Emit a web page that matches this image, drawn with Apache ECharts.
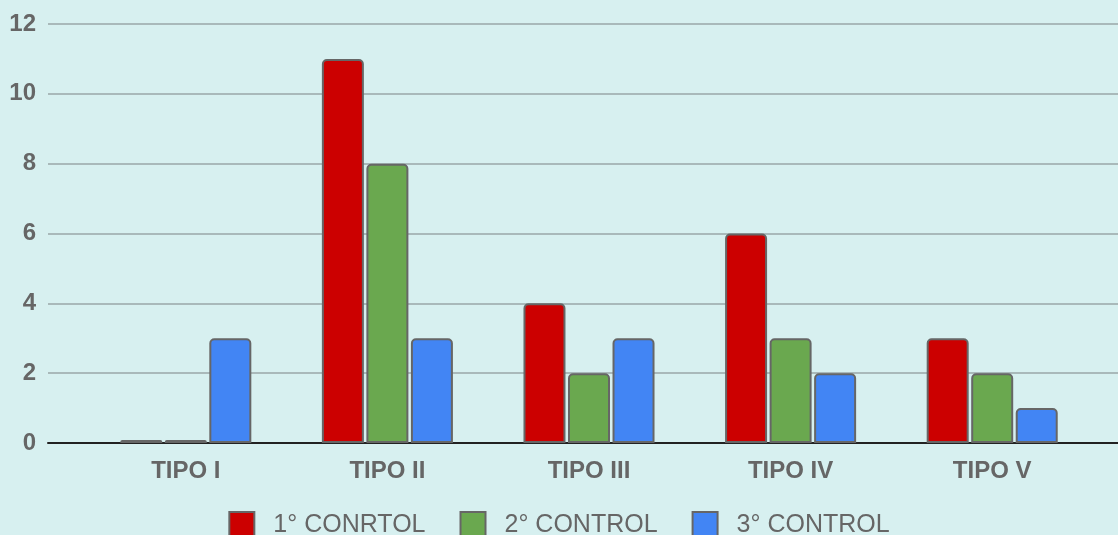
<!DOCTYPE html>
<html>
<head>
<meta charset="utf-8">
<script src="https://cdn.jsdelivr.net/npm/echarts@6/dist/echarts.min.js"></script>
<style>
  html, body { margin: 0; padding: 0; background: #d7f0f0; }
  #chart { width: 1118px; height: 535px; }
</style>
</head>
<body>
<div id="chart"></div>
<script>
const categories = ['TIPO I', 'TIPO II', 'TIPO III', 'TIPO IV', 'TIPO V'];
const seriesNames = ['1° CONRTOL', '2° CONTROL', '3° CONTROL'];
const control1 = [0, 11, 4, 6, 3];
const control2 = [0, 8, 2, 3, 2];
const control3 = [3, 3, 3, 2, 1];
const colors = ['#cc0000', '#6aa84f', '#4285f4'];

const textColor = '#666666';
const font = 'Liberation Sans, Arial, sans-serif';

const chart = echarts.init(document.getElementById('chart'));

function barSeries(name, data, color) {
  return {
    name: name,
    type: 'bar',
    xAxisIndex: 1,
    yAxisIndex: 1,
    data: data,
    barWidth: 42,
    barGap: '6%',
    barMinHeight: 3,
    itemStyle: {
      color: color,
      borderColor: '#666666',
      borderWidth: 2,
      borderRadius: [4, 4, 0, 0]
    },
    emphasis: { disabled: true }
  };
}

chart.setOption({
  backgroundColor: '#d7f0f0',
  animation: false,
  color: colors,
  legend: {
    top: 511,
    left: 'center',
    padding: 0,
    itemWidth: 25,
    itemHeight: 26,
    itemGap: 34,
    icon: 'rect',
    textStyle: { color: textColor, fontSize: 25, fontFamily: font, padding: [0, 0, 0, 14] },
    data: seriesNames
  },
  grid: [
    { left: 48, right: 0, top: 24, bottom: 92 },
    { left: 85, right: 25, top: 24, bottom: 92 }
  ],
  xAxis: [
    {
      type: 'category',
      gridIndex: 0,
      data: categories,
      axisLine: { show: true, lineStyle: { color: '#222222', width: 2 } },
      axisTick: { show: false },
      axisLabel: { show: false }
    },
    {
      type: 'category',
      gridIndex: 1,
      data: categories,
      axisLine: { show: false },
      axisTick: { show: false },
      axisLabel: {
        color: textColor, fontSize: 24, fontWeight: 'bold', fontFamily: font, margin: 16
      }
    }
  ],
  yAxis: [
    {
      type: 'value',
      gridIndex: 0,
      min: 0, max: 12, interval: 2,
      axisLine: { show: false },
      axisTick: { show: false },
      splitLine: { lineStyle: { color: '#a9b9ba', width: 2 } },
      axisLabel: { color: textColor, fontSize: 24, fontWeight: 'bold', fontFamily: font, margin: 12 }
    },
    {
      type: 'value',
      gridIndex: 1,
      min: 0, max: 12, interval: 2,
      axisLine: { show: false },
      axisTick: { show: false },
      splitLine: { show: false },
      axisLabel: { show: false }
    }
  ],
  series: [
    barSeries(seriesNames[0], control1, colors[0]),
    barSeries(seriesNames[1], control2, colors[1]),
    barSeries(seriesNames[2], control3, colors[2])
  ]
});
</script>
</body>
</html>
